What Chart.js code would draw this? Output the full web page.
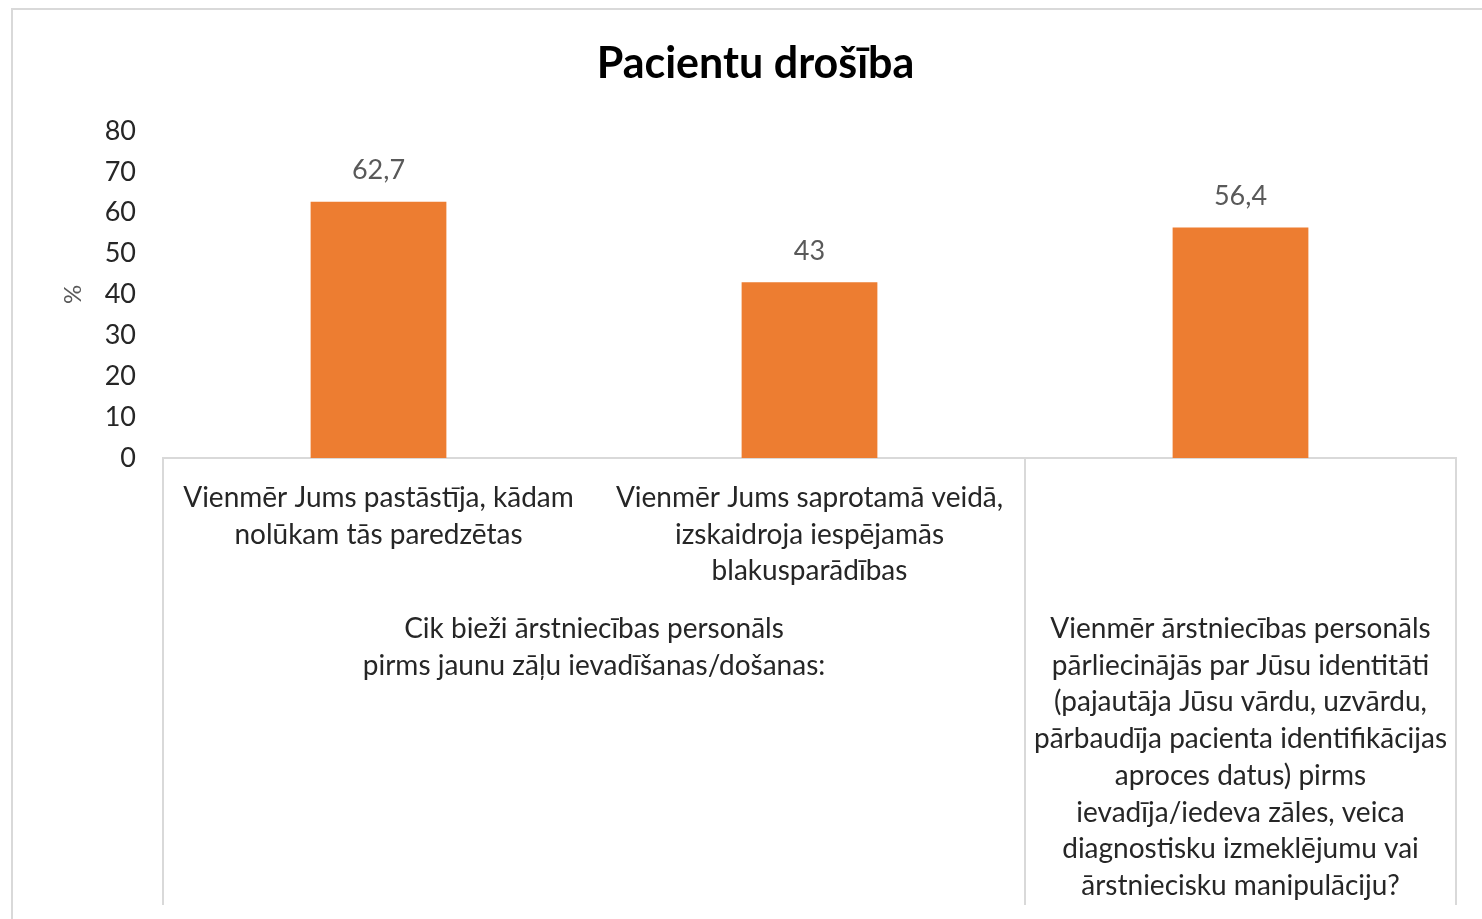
<!DOCTYPE html>
<html>
<head>
<meta charset="utf-8">
<script src="https://cdn.jsdelivr.net/npm/chart.js@4/dist/chart.umd.min.js"></script>
<style>
  html, body { margin: 0; padding: 0; background: #fff; overflow: hidden; }
  #frame { position: absolute; left: 11px; top: 8px; width: 1500px; height: 940px;
           border-left: 2px solid #d9d9d9; border-top: 2px solid #d9d9d9; }
  #chart { display: block; }
</style>
</head>
<body>
<div id="frame"><canvas id="chart" width="1482" height="909"></canvas></div>
<script>
const title = 'Pacientu drošība';
const categories = [
  ['Vienmēr Jums pastāstīja, kādam', 'nolūkam tās paredzētas'],
  ['Vienmēr Jums saprotamā veidā,', 'izskaidroja iespējamās', 'blakusparādības'],
  ['']
];
const values = [62.7, 43, 56.4];
const groupLabels = [
  ['Cik bieži ārstniecības personāls', 'pirms jaunu zāļu ievadīšanas/došanas:'],
  ['Vienmēr ārstniecības personāls', 'pārliecinājās par Jūsu identitāti', '(pajautāja Jūsu vārdu, uzvārdu,',
   'pārbaudīja pacienta identifikācijas', 'aproces datus) pirms', 'ievadīja/iedeva zāles, veica',
   'diagnostisku izmeklējumu vai', 'ārstniecisku manipulāciju?']
];
const groupSpans = [[0, 1], [2, 2]];
const yTicks = { min: 0, max: 80, step: 10 };

const FONT = 'Lato, "Open Sans", sans-serif';
const LINE = '#d9d9d9';
const LINE_H = 36.7;
const CAT_SIZE = 28;

// value labels above bars, with decimal comma
const barLabels = {
  id: 'barLabels',
  afterDatasetsDraw(chart) {
    const ctx = chart.ctx;
    ctx.save();
    ctx.font = '27px ' + FONT;
    ctx.fillStyle = '#595959';
    ctx.textAlign = 'center';
    ctx.textBaseline = 'middle';
    chart.getDatasetMeta(0).data.forEach((bar, i) => {
      ctx.fillText(String(values[i]).replace('.', ','), bar.x, bar.y - 31);
    });
    ctx.restore();
  }
};

// second level of the category axis + table lines
const groupAxis = {
  id: 'groupAxis',
  afterDraw(chart) {
    const ctx = chart.ctx;
    const x = chart.scales.x;
    const y0 = chart.chartArea.bottom;
    const half = (x.getPixelForValue(1) - x.getPixelForValue(0)) / 2;
    ctx.save();
    ctx.strokeStyle = LINE;
    ctx.lineWidth = 2;
    const edges = [x.left];
    groupSpans.forEach(s => edges.push(Math.min(x.getPixelForValue(s[1]) + half, x.right)));
    edges.forEach(px => {
      ctx.beginPath();
      ctx.moveTo(px, y0);
      ctx.lineTo(px, y0 + 447);
      ctx.stroke();
    });
    ctx.font = CAT_SIZE + 'px ' + FONT;
    ctx.fillStyle = '#262626';
    ctx.textAlign = 'center';
    ctx.textBaseline = 'middle';
    groupSpans.forEach((s, g) => {
      const cx = (x.getPixelForValue(s[0]) + x.getPixelForValue(s[1])) / 2;
      groupLabels[g].forEach((line, k) => {
        ctx.fillText(line, cx, y0 + 171 + k * LINE_H);
      });
    });
    ctx.restore();
  }
};

new Chart(document.getElementById('chart'), {
  type: 'bar',
  data: {
    labels: categories,
    datasets: [{
      data: values,
      backgroundColor: '#ed7d31',
      categoryPercentage: 1,
      barPercentage: 0.315
    }]
  },
  options: {
    responsive: false,
    animation: false,
    layout: { padding: { left: 42, right: 39, top: 0, bottom: 0 } },
    plugins: {
      legend: { display: false },
      tooltip: { enabled: false },
      title: {
        display: true,
        text: title,
        color: '#000',
        font: { family: FONT, size: 43, weight: 'bold' },
        padding: { top: 28, bottom: 41.4 }
      }
    },
    scales: {
      x: {
        grid: { display: false, drawTicks: false },
        border: { display: true, color: LINE, width: 2 },
        ticks: {
          autoSkip: false,
          maxRotation: 0,
          color: '#262626',
          padding: 21.5,
          font: { family: FONT, size: CAT_SIZE, lineHeight: LINE_H / CAT_SIZE }
        },
        afterFit(scale) { scale.height = 461; }
      },
      y: {
        min: yTicks.min,
        max: yTicks.max,
        grid: { display: false, drawTicks: false },
        border: { display: false },
        ticks: {
          stepSize: yTicks.step,
          color: '#262626',
          padding: 27,
          font: { family: FONT, size: 27 }
        },
        title: {
          display: true,
          text: '%',
          color: '#595959',
          font: { family: FONT, size: 24 }
        },
        afterFit(scale) { scale.width = 108; }
      }
    }
  },
  plugins: [barLabels, groupAxis]
});
</script>
</body>
</html>
